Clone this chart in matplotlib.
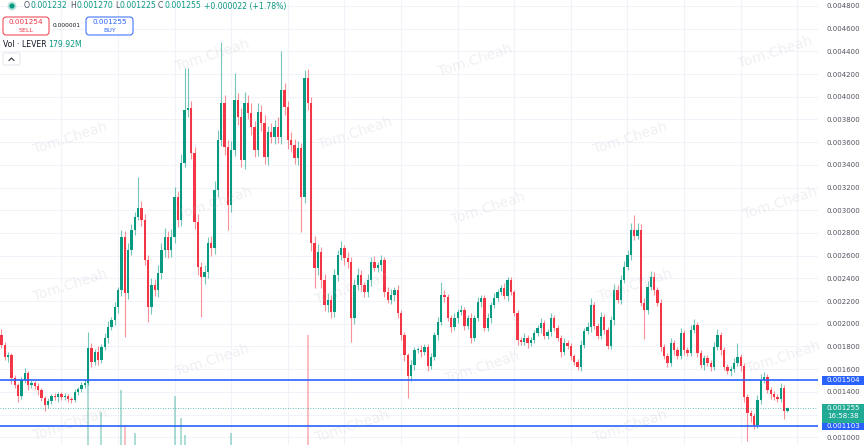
import matplotlib
matplotlib.use("Agg")
import matplotlib.pyplot as plt
import numpy as np
from matplotlib.patches import FancyBboxPatch, Rectangle, Circle
from matplotlib.transforms import IdentityTransform
from matplotlib.lines import Line2D

# ---------------- data (prices in units of 0.001) ----------------
open0 = 1.901
closes = [
    1.813, 1.707, 1.725, 1.523, 1.461, 1.364, 1.505, 1.567, 1.461, 1.478,
    1.452, 1.417, 1.346, 1.284, 1.320, 1.364, 1.355, 1.381, 1.355, 1.364,
    1.337, 1.329, 1.399, 1.425, 1.461, 1.478, 1.787, 1.663, 1.751, 1.681,
    1.796, 1.875, 1.972, 2.033, 2.148, 2.298, 2.765, 2.271, 2.650, 2.826,
    2.941, 3.020, 2.914, 2.562, 2.148, 2.342, 2.298, 2.448, 2.650, 2.765,
    2.650, 2.765, 3.117, 2.914, 3.417, 3.884, 3.901, 3.505, 2.897, 2.500,
    2.412, 2.456, 2.712, 2.668, 3.179, 3.619, 3.945, 3.558, 3.047, 3.531,
    3.972, 3.822, 3.443, 3.945, 3.857, 3.734, 3.531, 3.866, 3.769, 3.470,
    3.690, 3.646, 3.734, 3.646, 4.060, 3.910, 3.619, 3.575, 3.461, 3.549,
    3.117, 4.166, 3.945, 2.712, 2.492, 2.633, 2.386, 2.166, 2.210, 2.104,
    2.430, 2.606, 2.668, 2.580, 2.545, 2.051, 2.342, 2.430, 2.342, 2.280,
    2.386, 2.545, 2.492, 2.518, 2.562, 2.280, 2.210, 2.254, 2.298, 2.095,
    1.901, 1.725, 1.540, 1.637, 1.769, 1.769, 1.751, 1.796, 1.628, 1.707,
    1.901, 2.016, 2.254, 2.236, 2.051, 1.972, 2.051, 2.104, 2.122, 1.981,
    2.051, 1.875, 2.051, 2.192, 2.228, 1.963, 2.051, 2.166, 2.228, 2.280,
    2.316, 2.245, 2.386, 2.280, 2.095, 1.857, 1.840, 1.875, 1.831, 1.857,
    1.919, 1.963, 2.007, 1.893, 1.928, 2.051, 1.963, 1.875, 1.751, 1.831,
    1.805, 1.717, 1.663, 1.620, 1.813, 1.937, 1.972, 2.166, 1.981, 1.893,
    2.060, 1.946, 1.805, 2.033, 2.298, 2.210, 2.386, 2.500, 2.606, 2.826,
    2.774, 2.826, 2.184, 2.122, 2.324, 2.412, 2.298, 2.184, 1.796, 1.717,
    1.655, 1.831, 1.769, 1.717, 1.919, 1.769, 1.743, 1.946, 1.990, 1.743,
    1.637, 1.699, 1.655, 1.620, 1.796, 1.901, 1.769, 1.620, 1.584, 1.602,
    1.655, 1.707, 1.628, 1.355, 1.214, 1.188, 1.109, 1.329, 1.505, 1.532,
    1.417, 1.381, 1.355, 1.337, 1.435, 1.232, 1.255,
]
# wick lengths above / below the body (units of 0.00001)
wick_up = [
    5, 3, 3, 2, 3, 2, 3, 4, 2, 3,
    2, 3, 2, 2, 3, 2, 3, 2, 2, 3,
    2, 2, 3, 2, 3, 3, 14, 4, 3, 5,
    3, 4, 5, 3, 4, 3, 6, 5, 6, 5,
    4, 27, 6, 5, 4, 6, 5, 7, 6, 8,
    5, 7, 9, 5, 8, 37, 35, 6, 5, 7,
    4, 6, 5, 6, 8, 9, 54, 7, 6, 8,
    24, 6, 8, 10, 7, 9, 5, 8, 6, 7,
    5, 8, 6, 9, 34, 6, 5, 7, 5, 6,
    4, 7, 8, 5, 6, 7, 4, 5, 6, 4,
    5, 4, 6, 3, 5, 4, 5, 6, 4, 3,
    5, 4, 5, 3, 4, 3, 4, 5, 3, 4,
    3, 3, 2, 4, 3, 3, 4, 3, 3, 4,
    3, 4, 11, 4, 3, 3, 4, 3, 4, 3,
    3, 4, 3, 4, 3, 3, 4, 3, 4, 3,
    3, 4, 3, 3, 2, 3, 3, 4, 3, 3,
    3, 3, 4, 3, 3, 4, 3, 3, 3, 4,
    3, 3, 2, 3, 4, 3, 4, 6, 3, 3,
    4, 3, 3, 4, 5, 4, 4, 5, 4, 6,
    13, 6, 5, 4, 5, 5, 4, 3, 3, 3,
    3, 4, 3, 3, 4, 3, 3, 4, 5, 3,
    3, 3, 3, 3, 4, 5, 3, 3, 3, 3,
    4, 12, 3, 3, 3, 3, 3, 4, 5, 4,
    3, 3, 3, 3, 4, 3, 1.5,
]
wick_dn = [
    3, 3, 4, 5, 3, 5, 3, 3, 4, 3,
    3, 4, 3, 5, 3, 3, 3, 4, 3, 3,
    3, 3, 2, 3, 3, 3, 2, 4, 3, 4,
    3, 3, 4, 3, 4, 5, 5, 39, 5, 4,
    4, 3, 5, 4, 13, 6, 5, 6, 5, 6,
    7, 6, 5, 6, 5, 4, 6, 5, 6, 7,
    35, 6, 5, 7, 5, 6, 5, 7, 22, 6,
    5, 7, 6, 8, 5, 7, 6, 5, 7, 6,
    7, 5, 6, 5, 6, 7, 8, 6, 5, 6,
    31, 5, 6, 7, 18, 6, 7, 5, 6, 5,
    4, 5, 4, 6, 5, 21, 5, 4, 5, 4,
    4, 5, 3, 4, 5, 4, 3, 4, 5, 4,
    4, 5, 19, 4, 4, 3, 4, 3, 4, 3,
    3, 4, 3, 4, 3, 4, 3, 4, 3, 4,
    3, 4, 3, 3, 4, 3, 3, 4, 3, 3,
    3, 3, 4, 3, 3, 4, 3, 3, 4, 3,
    3, 3, 4, 3, 3, 4, 3, 3, 4, 3,
    3, 4, 3, 3, 4, 3, 3, 4, 3, 3,
    3, 4, 3, 3, 4, 3, 4, 3, 3, 4,
    4, 3, 3, 26, 4, 3, 4, 3, 4, 3,
    4, 3, 4, 3, 3, 4, 3, 3, 3, 4,
    3, 4, 3, 4, 3, 3, 4, 3, 3, 4,
    3, 3, 4, 4, 25, 5, 4, 3, 4, 3,
    3, 4, 3, 3, 3, 7, 0.7,
]
# visible volume spikes: candle index and volume (millions)
vol_idx = [26, 30, 36, 37, 40, 52, 54, 55, 69, 92]
vol_val = [1460, 740, 1240, 450, 270, 1100, 610, 225, 270, 2470]

y_ticks = [1.0, 1.2, 1.4, 1.6, 1.8, 2.0, 2.2, 2.4, 2.6, 2.8, 3.0, 3.2, 3.4,
           3.6, 3.8, 4.0, 4.2, 4.4, 4.6, 4.8]
support = 1.103
resistance = 1.504
last_close = 1.255
header_vals = ["0.001232", "0.001270", "0.001225", "0.001255"]
header_chg = "+0.000022 (+1.78%)"
sell_price, buy_price, spread = "0.001254", "0.001255", "0.000001"
vol_text = "179.92M"
countdown = "16:58:38"

# ---------------- figure ----------------
W, H = 867, 445
GREEN = "#089981"
RED = "#f23645"
BLUE = "#2962ff"
TXT = "#131722"
AX = "#50535e"

fig = plt.figure(figsize=(W / 100, H / 100), dpi=100)
fig.patch.set_facecolor("white")
ax = fig.add_axes([0, 0, 818 / W, 1])
for s in ax.spines.values():
    s.set_visible(False)

n = min(len(closes), len(wick_up), len(wick_dn))
c = np.array(closes[:n]) * 1e-3
o = np.concatenate([[open0 * 1e-3], c[:-1]])
hi = np.maximum(o, c) + np.array(wick_up[:n]) * 1e-5
lo = np.minimum(o, c) - np.array(wick_dn[:n]) * 1e-5
idx = np.arange(n)
up = c >= o
cols = np.where(up, GREEN, RED)

ax.set_xlim(-0.45, 245.2)
ax.set_ylim(0.9321e-3, 4.8526e-3)

# grid
ax.set_yticks(np.array(y_ticks) * 1e-3)
ax.set_yticklabels(["%.6f" % (v * 1e-3) for v in y_ticks])
ax.yaxis.tick_right()
ax.tick_params(axis="y", length=0, pad=6, labelsize=5.0, labelcolor=AX)
ax.set_xticks([])
ax.grid(axis="y", color="#f0f3fa", linewidth=0.8, zorder=0)
for k in range(14):
    px = 61.5 + 56.6 * k
    ax.axvline((px - 1.5) / 3.33, color="#f0f3fa", linewidth=0.8, zorder=0)

# watermarks
marks = [(212, 55), (475, 60), (775, 52), (70, 138), (355, 133), (630, 138),
         (215, 203), (488, 208), (780, 203), (70, 285), (352, 288), (635, 285),
         (212, 360), (482, 367), (783, 357), (70, 424), (352, 426), (630, 426)]
for (mx, my) in marks:
    fig.text(mx, H - my, "Tom.Cheah", transform=IdentityTransform(), rotation=18,
             fontsize=10, color="#b2b5be", alpha=0.2, ha="center", va="center",
             zorder=1)

# volume (only the tall spikes reach into view)
vcols = [GREEN if up[i] else RED for i in vol_idx]
ax.vlines(vol_idx, 0, np.array(vol_val) / 10000.0, colors=vcols, alpha=0.35,
          linewidth=1.3, transform=ax.get_xaxis_transform(), zorder=2)

# candles
ax.vlines(idx, lo, hi, colors=cols, linewidth=0.8, alpha=0.55, zorder=3)
body_h = np.maximum(np.abs(c - o), 0.006e-3)
ax.bar(idx, body_h, bottom=np.minimum(o, c), width=0.7, color=cols,
       linewidth=0, zorder=4)

# horizontal levels
ax.axhline(resistance * 1e-3, color=BLUE, linewidth=1.2, zorder=5)
ax.axhline(support * 1e-3, color=BLUE, linewidth=1.2, zorder=5)
ax.axhline(last_close * 1e-3, color=GREEN, linewidth=0.6, linestyle=(0, (1, 2)),
           alpha=0.8, zorder=5)

fig.canvas.draw()


def ypix(price):
    return ax.transData.transform((0, price * 1e-3))[1]


def axis_box(price, text, color):
    yc = ypix(price)
    r = Rectangle((822, yc - 4.5), 42, 9, transform=IdentityTransform(),
                  facecolor=color, edgecolor="none", zorder=10)
    fig.add_artist(r)
    fig.text(843, yc, text, transform=IdentityTransform(), color="white",
             fontsize=5.0, ha="center", va="center", zorder=11)


axis_box(resistance, "%.6f" % (resistance * 1e-3), BLUE)
axis_box(support, "%.6f" % (support * 1e-3), BLUE)
yc = ypix(last_close)
fig.add_artist(Rectangle((822, yc - 14.5), 42, 19, transform=IdentityTransform(),
                         facecolor="#22ab94", edgecolor="none", zorder=10))
fig.text(843, yc, "%.6f" % (last_close * 1e-3), transform=IdentityTransform(),
         color="white", fontsize=5.0, ha="center", va="center", zorder=11)
fig.text(843, yc - 8, countdown, transform=IdentityTransform(),
         color="white", fontsize=5.0, ha="center", va="center", zorder=11)

# ---------------- header ----------------
I = IdentityTransform()
fig.add_artist(Circle((12, H - 6), 4.5, transform=I, facecolor=GREEN, alpha=0.25,
                      edgecolor="none"))
fig.add_artist(Circle((12, H - 6), 2.6, transform=I, facecolor=GREEN,
                      edgecolor="none"))
letters = ["O", "H", "L", "C"]
lx = [24, 70, 115, 158]
loff = [6.8, 6.6, 5.0, 6.2]
for L, x0, dx, v in zip(letters, lx, loff, header_vals):
    fig.text(x0, H - 6, L, transform=I, fontsize=5.6, color=AX, va="center")
    fig.text(x0 + dx, H - 6, v, transform=I, fontsize=5.6, color=GREEN, va="center")
fig.text(204, H - 6, header_chg, transform=I, fontsize=5.6, color=GREEN, va="center")

fig.add_artist(FancyBboxPatch((3, H - 35), 46, 18, boxstyle="round,pad=0,rounding_size=3",
                              transform=I, facecolor="white", edgecolor=RED, linewidth=0.7))
fig.text(26, H - 22.5, sell_price, transform=I, fontsize=5.2, color=RED, ha="center", va="center")
fig.text(26, H - 30.5, "SELL", transform=I, fontsize=4.6, color=RED, ha="center", va="center")
fig.text(67, H - 25.5, spread, transform=I, fontsize=4.2, color=TXT, ha="center", va="center")
fig.add_artist(FancyBboxPatch((86, H - 35), 47, 18, boxstyle="round,pad=0,rounding_size=3",
                              transform=I, facecolor="white", edgecolor=BLUE, linewidth=0.7))
fig.text(109.5, H - 22.5, buy_price, transform=I, fontsize=5.2, color=BLUE, ha="center", va="center")
fig.text(109.5, H - 30.5, "BUY", transform=I, fontsize=4.6, color=BLUE, ha="center", va="center")

fig.text(3, H - 44.5, "Vol · LEVER", transform=I, fontsize=5.6, color=TXT, va="center")
fig.text(48, H - 44.5, vol_text, transform=I, fontsize=5.6, color=GREEN, va="center")
fig.add_artist(FancyBboxPatch((3, H - 65), 17, 12, boxstyle="round,pad=0,rounding_size=2",
                              transform=I, facecolor="white", edgecolor="#e0e3eb", linewidth=0.7))
fig.add_artist(Line2D([9, 11.5, 14], [H - 60.5, H - 58, H - 60.5], transform=I,
                      color=TXT, linewidth=0.7))

fig.savefig("out.png", dpi=100, facecolor="white")
